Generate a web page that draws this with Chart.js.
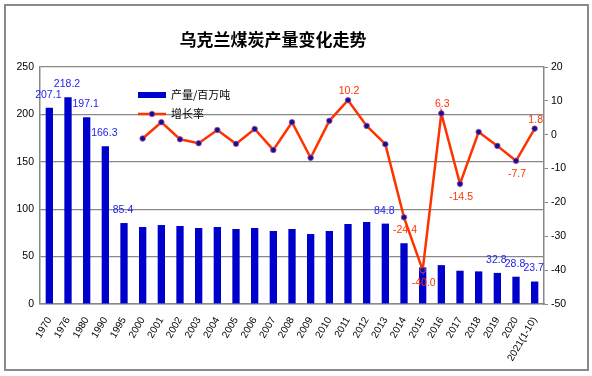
<!DOCTYPE html>
<html>
<head>
<meta charset="utf-8">
<script src="https://cdn.jsdelivr.net/npm/chart.js@4.4.0/dist/chart.umd.min.js"></script>
<style>
html,body{margin:0;padding:0;background:#fff;}
canvas{display:block;}
</style>
</head>
<body>
<canvas id="c" width="592" height="376"></canvas>
<script>
const categories = ['1970','1976','1980','1990','1995','2000','2001','2002','2003','2004','2005','2006','2007','2008','2009','2010','2011','2012','2013','2014','2015','2016','2017','2018','2019','2020','2021(1-10)'];
const outputMt = [207.1,218.2,197.1,166.3,85.4,81.2,83.3,82.3,80.2,81.2,79.1,80.2,77.0,79.1,73.8,77.0,84.4,86.5,84.8,64.1,38.6,41.0,35.1,34.4,32.8,28.8,23.7];
const growthPct = [null,null,null,null,null,-1.1,3.7,-1.35,-2.5,1.4,-2.7,1.7,-4.5,3.7,-6.8,4.1,10.2,2.6,-2.8,-24.4,-40.0,6.3,-14.5,0.8,-3.3,-7.7,1.8];
const barLabelCats = ['1970','1976','1980','1990','1995','2013','2019','2020','2021(1-10)'];
const lineLabelCats = ['2011','2014','2015','2016','2017','2020','2021(1-10)'];
const leftTicks = [0,50,100,150,200,250];
const rightTicks = [-50,-40,-30,-20,-10,0,10,20];
const titleText = '乌克兰煤炭产量变化走势';
const seriesNames = ['产量/百万吨','增长率'];

const BAR_COLOR = '#0000CC';
const LINE_COLOR = '#FF3300';
const AXIS_COLOR = '#888888';
const NUM_FONT = '"Liberation Sans", Arial, sans-serif';
const CJK_FONT = '"Noto Sans CJK SC", sans-serif';

const framePlugin = {
  id: 'frame',
  beforeDraw(chart) {
    const ctx = chart.ctx;
    ctx.save();
    ctx.fillStyle = '#fff';
    ctx.fillRect(0, 0, chart.width, chart.height);
    ctx.strokeStyle = '#8a8a8a';
    ctx.lineWidth = 2;
    ctx.strokeRect(5, 5, 583, 365);
    ctx.fillStyle = '#000';
    ctx.font = 'bold 17px ' + CJK_FONT;
    ctx.textAlign = 'center';
    ctx.textBaseline = 'middle';
    ctx.fillText(titleText, 273, 40);
    ctx.restore();
  }
};

const labelPlugin = {
  id: 'valueLabels',
  afterDatasetsDraw(chart) {
    const ctx = chart.ctx;
    ctx.save();
    ctx.font = '10.5px ' + NUM_FONT;
    ctx.textAlign = 'center';
    ctx.textBaseline = 'middle';
    const barMeta = chart.getDatasetMeta(0);
    ctx.fillStyle = '#2222EE';
    barLabelCats.forEach(cat => {
      const i = categories.indexOf(cat);
      const el = barMeta.data[i];
      ctx.fillText(outputMt[i].toFixed(1), el.x - 1, el.y - 13);
    });
    const lineMeta = chart.getDatasetMeta(1);
    ctx.fillStyle = LINE_COLOR;
    lineLabelCats.forEach(cat => {
      const i = categories.indexOf(cat);
      const el = lineMeta.data[i];
      const v = growthPct[i];
      const dy = v >= 0 ? -9 : 13;
      ctx.fillText(v.toFixed(1), el.x + 1, el.y + dy);
    });
    // legend
    ctx.font = '11px ' + CJK_FONT;
    ctx.textAlign = 'left';
    ctx.fillStyle = BAR_COLOR;
    ctx.fillRect(138, 92, 28, 6);
    ctx.fillStyle = '#000';
    ctx.fillText(seriesNames[0], 171, 95);
    ctx.strokeStyle = LINE_COLOR;
    ctx.lineWidth = 2.5;
    ctx.beginPath();
    ctx.moveTo(138, 114);
    ctx.lineTo(166, 114);
    ctx.stroke();
    ctx.beginPath();
    ctx.arc(152, 114, 2.8, 0, Math.PI * 2);
    ctx.fillStyle = '#10109a';
    ctx.fill();
    ctx.lineWidth = 0.8;
    ctx.strokeStyle = '#c0508a';
    ctx.stroke();
    ctx.fillStyle = '#000';
    ctx.fillText(seriesNames[1], 171, 114);
    ctx.restore();
  }
};

new Chart(document.getElementById('c'), {
  type: 'bar',
  data: {
    labels: categories,
    datasets: [
      {
        type: 'bar',
        label: seriesNames[0],
        data: outputMt,
        backgroundColor: BAR_COLOR,
        yAxisID: 'y',
        barPercentage: 0.8,
        categoryPercentage: 0.49,
        order: 2
      },
      {
        type: 'line',
        label: seriesNames[1],
        data: growthPct,
        yAxisID: 'y1',
        borderColor: LINE_COLOR,
        borderWidth: 2.5,
        pointRadius: 2.8,
        pointBackgroundColor: '#10109a',
        pointBorderColor: '#c0508a',
        pointBorderWidth: 0.8,
        tension: 0,
        spanGaps: false,
        order: 1
      }
    ]
  },
  options: {
    responsive: false,
    animation: false,
    devicePixelRatio: 1,
    layout: { padding: { top: 67, left: 0, right: 0, bottom: 0 } },
    plugins: {
      legend: { display: false },
      title: { display: false },
      tooltip: { enabled: false }
    },
    scales: {
      x: {
        type: 'category',
        offset: true,
        grid: { drawOnChartArea: false, drawTicks: false },
        border: { display: true, color: AXIS_COLOR, width: 1.5 },
        ticks: {
          color: '#000',
          font: { family: NUM_FONT, size: 10 },
          minRotation: 60,
          maxRotation: 60,
          autoSkip: false,
          padding: 11
        },
        afterFit(scale) { scale.height = 72; }
      },
      y: {
        position: 'left',
        min: leftTicks[0],
        max: leftTicks[leftTicks.length - 1],
        afterBuildTicks(scale) { scale.ticks = leftTicks.map(v => ({ value: v })); },
        grid: { color: AXIS_COLOR, lineWidth: 1.2, drawTicks: false },
        border: { display: true, color: AXIS_COLOR, width: 1.5 },
        ticks: { color: '#000', font: { family: NUM_FONT, size: 10.5 }, padding: 6 },
        afterFit(scale) { scale.width = 40; }
      },
      y1: {
        position: 'right',
        min: rightTicks[0],
        max: rightTicks[rightTicks.length - 1],
        afterBuildTicks(scale) { scale.ticks = rightTicks.map(v => ({ value: v })); },
        grid: { drawOnChartArea: false, drawTicks: true, tickLength: 4, color: AXIS_COLOR },
        border: { display: true, color: AXIS_COLOR, width: 1.5 },
        ticks: { color: '#000', font: { family: NUM_FONT, size: 10.5 }, padding: 3 },
        afterFit(scale) { scale.width = 48; }
      }
    }
  },
  plugins: [framePlugin, labelPlugin]
});
</script>
</body>
</html>
